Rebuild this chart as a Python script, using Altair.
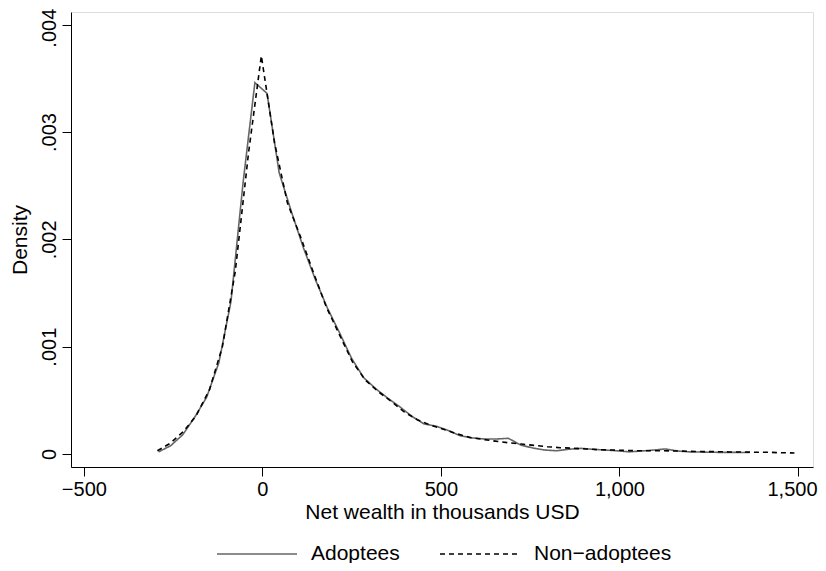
import altair as alt
import pandas as pd

# Kernel density estimates
adopt_x = [-291, -257, -223, -190, -156, -122, -88, -54, -21, 13, 47, 81, 115, 149, 182, 216,
           250, 284, 317, 351, 385, 419, 453, 486, 520, 554, 588, 622, 655, 689, 723, 757,
           791, 824, 858, 892, 926, 960, 993, 1027, 1061, 1095, 1129, 1162, 1196, 1230,
           1264, 1298, 1331, 1365]
adopt_y = [0.00002, 0.000077, 0.00018, 0.00034, 0.00053, 0.00085, 0.00142, 0.00253, 0.00346,
           0.00336, 0.00262, 0.00226, 0.00192, 0.00162, 0.00136, 0.00113, 0.00089, 0.00071,
           0.00061, 0.00052, 0.00044, 0.00035, 0.00028, 0.00026, 0.00022, 0.00017, 0.00015,
           0.00014, 0.00014, 0.000146, 0.000084, 0.000056, 0.000037, 0.00003, 0.000044,
           0.000053, 0.000044, 0.000037, 0.00003, 0.00002, 0.000028, 0.000037, 0.000047,
           0.000028, 0.00002, 0.000018, 0.000016, 0.000015, 0.000015, 0.000014]

non_x = [-294, -258, -221, -185, -148, -112, -76, -39, -3, 34, 70, 106, 143, 179, 216, 252,
         288, 325, 361, 398, 434, 470, 507, 543, 580, 616, 652, 689, 725, 762, 798, 834,
         871, 907, 944, 980, 1016, 1053, 1089, 1126, 1162, 1198, 1235, 1271, 1308, 1344,
         1380, 1417, 1453, 1490]
non_y = [0.00003, 0.0001, 0.00021, 0.00036, 0.0006, 0.001, 0.0017, 0.0028, 0.00371, 0.0029,
         0.00234, 0.00203, 0.00169, 0.00137, 0.00111, 0.00086, 0.00069, 0.00058, 0.00049,
         0.00039, 0.00032, 0.00027, 0.00023, 0.00019, 0.000155, 0.000137, 0.00012, 0.000105,
         0.000093, 0.00008, 0.000068, 0.000059, 0.000053, 0.000047, 0.00004, 0.000037,
         0.000034, 0.00003, 0.00003, 0.00003, 0.000028, 0.000025, 0.000022, 0.000022,
         0.000019, 0.000019, 0.000016, 0.000016, 0.000012, 0.00001]

groups = ["Adoptees", "Non\u2212adoptees"]
x_ticks = [-500, 0, 500, 1000, 1500]
y_ticks = [0, 0.001, 0.002, 0.003, 0.004]

df = pd.concat([
    pd.DataFrame({"x": adopt_x, "y": adopt_y, "group": groups[0], "ord": range(len(adopt_x))}),
    pd.DataFrame({"x": non_x, "y": non_y, "group": groups[1], "ord": range(len(non_x))}),
])

FONT = "Liberation Sans"
LFS = 20   # tick labels
TFS = 21   # titles / legend

legend = alt.Legend(title=None, orient="none", legendX=145, legendY=501,
                    direction="horizontal", symbolType="stroke",
                    symbolSize=6400, symbolStrokeWidth=1.6,
                    labelFontSize=TFS, labelFont=FONT, labelColor="#000",
                    labelOffset=13, columnPadding=36, padding=0)

chart = alt.Chart(df).mark_line(strokeWidth=1.6).encode(
    x=alt.X("x:Q", scale=alt.Scale(domain=[-536, 1542], nice=False, zero=False),
            axis=alt.Axis(values=x_ticks, format=",.0f", title="Net wealth in thousands USD",
                          grid=False, tickSize=9, labelPadding=3, titlePadding=2,
                          labelOffset={"expr": "datum.value == 1500 ? -6 : 0"},
                          labelFontSize=LFS, titleFontSize=TFS, labelFont=FONT, titleFont=FONT,
                          titleFontWeight="normal", domainColor="#000", tickColor="#000",
                          labelColor="#000", titleColor="#000", labelFlush=False)),
    y=alt.Y("y:Q", scale=alt.Scale(domain=[-0.000121, 0.004118], nice=False, zero=False),
            axis=alt.Axis(values=y_ticks, title="Density", grid=False, tickSize=9,
                          labelAngle=270, labelAlign="center", labelBaseline="bottom",
                          labelPadding=3, titlePadding=9,
                          labelOffset={"expr": "datum.value > 0.0035 ? 3 : 0"},
                          labelExpr="datum.value == 0 ? '0' : replace(format(datum.value, '.3f'), '0.', '.')",
                          labelFontSize=LFS, titleFontSize=TFS, labelFont=FONT, titleFont=FONT,
                          titleFontWeight="normal", domainColor="#000", tickColor="#000",
                          labelColor="#000", titleColor="#000")),
    color=alt.Color("group:N", scale=alt.Scale(domain=groups, range=["#666666", "#000000"]),
                    legend=legend),
    strokeDash=alt.StrokeDash("group:N", scale=alt.Scale(domain=groups, range=[[1, 0], [5, 4]]),
                              legend=legend),
    order="ord:Q",
).properties(
    width=742, height=455,
    autosize=alt.AutoSizeParams(type="none"),
    padding={"left": 63, "top": 4, "right": 5, "bottom": 96},
).configure_view(stroke=None).configure(background="white")

chart.save("out.html", embed_options={"renderer": "svg", "actions": False})
